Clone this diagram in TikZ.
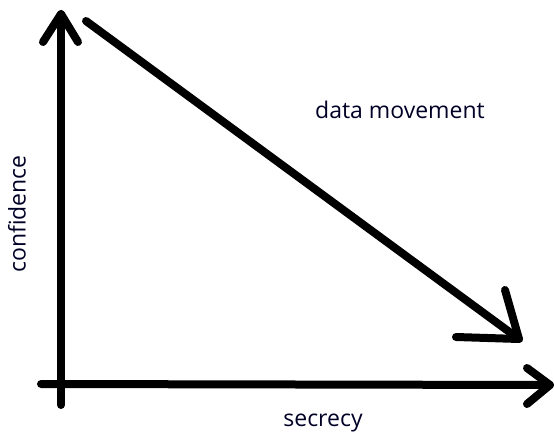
\documentclass[tikz,border=0pt]{standalone}
\usepackage{fontspec}
\setmainfont{Open Sans}
\begin{document}
\begin{tikzpicture}[x=1pt,y=-1pt,
  stroke/.style={line width=8pt,line cap=round,line join=round,black},
  lbl/.style={font=\fontsize{23}{26}\selectfont,text=black!85!blue,inner sep=0pt}]
\useasboundingbox (0,0) rectangle (554,435);
% vertical axis
\coordinate (vb) at (61,405);
\coordinate (vt) at (61,14);
\coordinate (vl) at (43,42);
\coordinate (vr) at (78,42);
\draw[stroke] (vb) -- (vt);
\draw[stroke] (vl) -- (vt) -- (vr);
% horizontal axis
\coordinate (hl) at (41,384);
\coordinate (hr) at (550,385);
\coordinate (hu) at (527,368);
\coordinate (hd) at (527,404);
\draw[stroke] (hl) -- (hr);
\draw[stroke] (hu) -- (hr) -- (hd);
% diagonal
\coordinate (ds) at (86,21);
\coordinate (de) at (519,339);
\coordinate (du) at (505,290);
\coordinate (dl) at (456,337);
\draw[stroke] (ds) -- (de);
\draw[stroke] (du) -- (de) -- (dl);
% labels
\node[lbl] (dm) at (400,110) {data movement};
\node[lbl,rotate=90] (cf) at (17,214) {confidence};
\node[lbl] (sc) at (323,423) {secrecy};
\end{tikzpicture}
\end{document}
